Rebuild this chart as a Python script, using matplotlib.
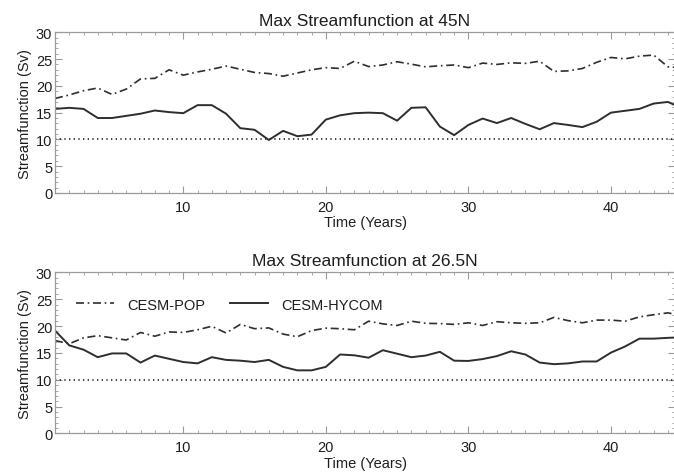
import numpy as np
import matplotlib
matplotlib.use("Agg")
import matplotlib.pyplot as plt
from matplotlib.ticker import MultipleLocator

plt.rcParams['font.family'] = ['Liberation Sans', 'DejaVu Sans']

years = np.arange(1, 46)

# Max streamfunction at 45N (Sv)
pop_45 = [17.65, 18.3, 19.1, 19.6, 18.4, 19.4, 21.3, 21.4, 23.0, 22.0,
          22.6, 23.1, 23.7, 23.1, 22.5, 22.3, 21.8, 22.4, 23.0, 23.4,
          23.25, 24.6, 23.6, 23.9, 24.5, 24.05, 23.55, 23.75, 23.9, 23.4,
          24.25, 24.0, 24.3, 24.2, 24.6, 22.7, 22.8, 23.25, 24.4, 25.3,
          25.05, 25.55, 25.75, 23.55, 23.4]
hycom_45 = [15.7, 15.9, 15.7, 14.0, 14.0, 14.4, 14.8, 15.4, 15.1, 14.9,
            16.4, 16.4, 14.8, 12.1, 11.8, 9.9, 11.6, 10.6, 10.9, 13.7,
            14.5, 14.9, 15.0, 14.9, 13.5, 15.9, 16.0, 12.4, 10.8, 12.7,
            13.9, 13.05, 14.0, 12.9, 11.9, 13.05, 12.7, 12.3, 13.3, 15.0,
            15.35, 15.7, 16.7, 17.0, 15.8]

# Max streamfunction at 26.5N (Sv)
pop_265 = [17.3, 16.7, 17.8, 18.2, 17.8, 17.4, 18.8, 18.1, 18.9, 18.8,
           19.3, 19.95, 18.7, 20.3, 19.5, 19.65, 18.5, 18.0, 19.15, 19.6,
           19.5, 19.3, 20.9, 20.4, 20.1, 20.9, 20.5, 20.45, 20.3, 20.6,
           20.1, 20.8, 20.6, 20.5, 20.6, 21.6, 21.0, 20.6, 21.1, 21.1,
           20.9, 21.7, 22.1, 22.45, 21.9]
hycom_265 = [19.15, 16.4, 15.6, 14.2, 14.9, 14.9, 13.2, 14.5, 13.9, 13.3,
             13.05, 14.2, 13.7, 13.55, 13.3, 13.7, 12.4, 11.75, 11.75, 12.4,
             14.7, 14.55, 14.1, 15.5, 14.85, 14.2, 14.5, 15.2, 13.55, 13.5,
             13.85, 14.4, 15.3, 14.7, 13.2, 12.9, 13.05, 13.4, 13.4, 15.05,
             16.2, 17.65, 17.65, 17.8, 17.9]

ref_level = 10

panels = [
    ("Max Streamfunction at 45N", pop_45, hycom_45, [0.0816, 0.5933, 0.92, 0.3369]),
    ("Max Streamfunction at 26.5N", pop_265, hycom_265, [0.0816, 0.0891, 0.92, 0.338]),
]

fig = plt.figure(figsize=(6.74, 4.77), dpi=100)
spine_col = '#9a9a9a'
line_col = '#2e2e2e'
text_col = '#1e1e1e'

for i, (title, pop, hycom, rect) in enumerate(panels):
    ax = fig.add_axes(rect)
    ax.plot(years, pop, color=line_col, lw=1.2, ls=(0, (4.8, 2.2, 1.0, 2.2)),
            label='CESM-POP')
    ax.plot(years, hycom, color=line_col, lw=1.4, label='CESM-HYCOM')
    ax.axhline(ref_level, color='#222222', lw=1.2, ls=(0, (0.8, 2.0)))

    ax.set_xlim(1, 44.5)
    ax.set_ylim(0, 30)
    ax.xaxis.set_major_locator(MultipleLocator(10))
    ax.xaxis.set_minor_locator(MultipleLocator(1))
    ax.yaxis.set_major_locator(MultipleLocator(5))
    ax.yaxis.set_minor_locator(MultipleLocator(1))
    ax.tick_params(which='both', direction='in', top=True, right=True,
                   color=spine_col, labelcolor=text_col, labelsize=10.5)
    ax.tick_params(which='major', length=5, width=0.8)
    ax.tick_params(which='minor', length=2.5, width=0.6)
    ax.tick_params(axis='x', pad=5)
    ax.tick_params(axis='y', pad=2)
    for s in ax.spines.values():
        s.set_color(spine_col)
        s.set_linewidth(0.9)

    ax.set_title(title, fontsize=12.5, color=text_col, pad=5)
    ax.set_ylabel('Streamfunction (Sv)', fontsize=10.5, color=text_col, labelpad=3)
    ax.set_xlabel('Time (Years)', fontsize=10.5, color=text_col, labelpad=1)

    if i == 1:
        ax.legend(loc='center left', bbox_to_anchor=(0.034, 0.80), ncol=2,
                  frameon=False, fontsize=10.5, handlelength=2.6,
                  handletextpad=0.9, columnspacing=1.7, borderaxespad=0,
                  borderpad=0, labelcolor=text_col)

fig.savefig('out.png', dpi=100)
